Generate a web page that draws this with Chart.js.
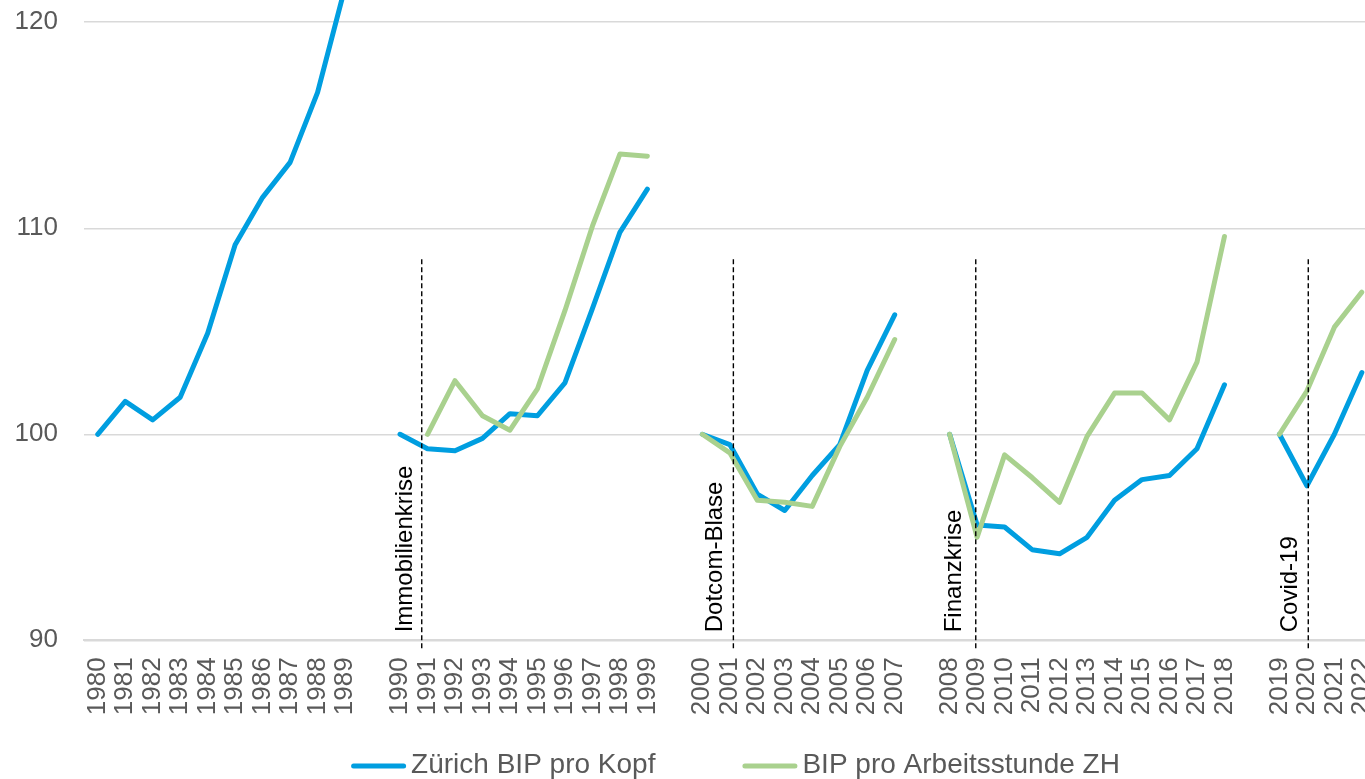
<!DOCTYPE html>
<html lang="de">
<head>
<meta charset="utf-8">
<title>BIP Zürich nach Krisen</title>
<script src="https://cdn.jsdelivr.net/npm/chart.js@4.4.1/dist/chart.umd.min.js"></script>
<style>
  html, body { margin: 0; padding: 0; background: #ffffff; overflow: hidden; }
  #frame { position: relative; width: 1365px; height: 779px; overflow: hidden; background: #ffffff; }
  #plot { position: absolute; left: 0; top: 0; }
</style>
</head>
<body>
<div id="frame">
  <canvas id="plot" width="1471" height="779"></canvas>
</div>
<script>
// Jahre (leere Einträge trennen die Perioden nach jeder Krise)
const categories = [
  '1980','1981','1982','1983','1984','1985','1986','1987','1988','1989', '',
  '1990','1991','1992','1993','1994','1995','1996','1997','1998','1999', '',
  '2000','2001','2002','2003','2004','2005','2006','2007', '',
  '2008','2009','2010','2011','2012','2013','2014','2015','2016','2017','2018', '',
  '2019','2020','2021','2022'
];

// Index, Startjahr jeder Periode = 100
const bipProKopf = [
  100, 101.6, 100.7, 101.8, 104.9, 109.2, 111.5, 113.2, 116.6, 121.7, null,
  100, 99.3, 99.2, 99.8, 101.0, 100.9, 102.5, 106.1, 109.8, 111.9, null,
  100, 99.5, 97.1, 96.3, 98.0, 99.5, 103.1, 105.8, null,
  100, 95.6, 95.5, 94.4, 94.2, 95.0, 96.8, 97.8, 98.0, 99.3, 102.4, null,
  100, 97.5, 100.0, 103.0
];

const bipProArbeitsstunde = [
  null, null, null, null, null, null, null, null, null, null, null,
  null, 100, 102.6, 100.9, 100.2, 102.2, 106.0, 110.1, 113.6, 113.5, null,
  100, 99.1, 96.8, 96.7, 96.5, 99.4, 101.8, 104.6, null,
  100, 95.0, 99.0, 97.9, 96.7, 99.9, 102.0, 102.0, 100.7, 103.5, 109.6, null,
  100, 102.1, 105.2, 106.9
];

const seriesNames = ['Zürich BIP pro Kopf', 'BIP pro Arbeitsstunde ZH'];

const yTicks = [90, 100, 110, 120];

// Krisenmarkierungen
const crisisYears = ['1991', '2001', '2009', '2020'];
const crisisLabels = ['Immobilienkrise', 'Dotcom-Blase', 'Finanzkrise', 'Covid-19'];

const FONT = "'Liberation Sans', Arial, Helvetica, sans-serif";
const GREY_TEXT = '#595959';
const GRID = '#d9d9d9';
const BLUE = '#009ee0';
const GREEN = '#a9d18e';

// Gestrichelte Linien mit senkrechter Beschriftung je Krise
const crisisMarker = {
  id: 'crisisMarker',
  afterDatasetsDraw(chart, args, opts) {
    const { ctx, chartArea } = chart;
    const x = chart.scales.x;
    const y = chart.scales.y;
    const slot = x.getPixelForValue(1) - x.getPixelForValue(0);
    const top = y.getPixelForValue(opts.topValue);
    ctx.save();
    crisisYears.forEach((year, i) => {
      const px = x.getPixelForValue(categories.indexOf(year)) + opts.shift[i] * slot;
      ctx.beginPath();
      ctx.setLineDash([5, 3]);
      ctx.lineWidth = 1.4;
      ctx.strokeStyle = '#000000';
      ctx.moveTo(px, top);
      ctx.lineTo(px, chartArea.bottom + 8);
      ctx.stroke();

      ctx.save();
      ctx.setLineDash([]);
      ctx.translate(px - opts.textGap[i], chartArea.bottom - 8);
      ctx.rotate(-Math.PI / 2);
      ctx.font = '24px ' + FONT;
      ctx.fillStyle = '#000000';
      ctx.textAlign = 'left';
      ctx.textBaseline = 'alphabetic';
      ctx.fillText(crisisLabels[i], 0, 0);
      ctx.restore();
    });
    ctx.restore();
  }
};

// Legende: Linienmuster + Text, zentriert unter der Grafik
const lineLegend = {
  id: 'lineLegend',
  afterDraw(chart, args, opts) {
    const { ctx } = chart;
    ctx.save();
    ctx.font = opts.fontSize + 'px ' + FONT;
    const items = chart.data.datasets.map(ds => ({
      text: ds.label, color: ds.borderColor, lineWidth: ds.borderWidth
    }));
    const widths = items.map(it => opts.lineLength + opts.textGap + ctx.measureText(it.text).width);
    const total = widths.reduce((a, b) => a + b, 0) + opts.itemGap * (items.length - 1);
    let x = chart.width / 2 - total / 2;
    const y = chart.height - opts.bottomOffset;
    items.forEach((it, i) => {
      const cap = it.lineWidth / 2;
      ctx.beginPath();
      ctx.strokeStyle = it.color;
      ctx.lineWidth = it.lineWidth;
      ctx.lineCap = 'round';
      ctx.moveTo(x + cap, y + 1);
      ctx.lineTo(x + opts.lineLength - cap, y + 1);
      ctx.stroke();
      ctx.fillStyle = opts.color;
      ctx.textAlign = 'left';
      ctx.textBaseline = 'middle';
      ctx.fillText(it.text, x + opts.lineLength + opts.textGap, y);
      x += widths[i] + opts.itemGap;
    });
    ctx.restore();
  }
};

new Chart(document.getElementById('plot'), {
  type: 'line',
  data: {
    labels: categories,
    datasets: [
      {
        label: seriesNames[0],
        data: bipProKopf,
        borderColor: BLUE,
        backgroundColor: BLUE,
        borderWidth: 5,
        borderCapStyle: 'round',
        borderJoinStyle: 'round',
        pointRadius: 0,
        pointHoverRadius: 0,
        tension: 0,
        spanGaps: false,
        order: 1
      },
      {
        label: seriesNames[1],
        data: bipProArbeitsstunde,
        borderColor: GREEN,
        backgroundColor: GREEN,
        borderWidth: 5,
        borderCapStyle: 'round',
        borderJoinStyle: 'round',
        pointRadius: 0,
        pointHoverRadius: 0,
        tension: 0,
        spanGaps: false,
        order: 0
      }
    ]
  },
  options: {
    responsive: false,
    devicePixelRatio: 1,
    animation: false,
    events: [],
    layout: { padding: { left: 0, right: 95.4, top: 0, bottom: 58.7 } },
    scales: {
      x: {
        type: 'category',
        offset: true,
        grid: { display: false, drawTicks: false },
        border: { display: true, color: GRID, width: 2 },
        ticks: {
          autoSkip: false,
          minRotation: 90,
          maxRotation: 90,
          padding: 17,
          color: GREY_TEXT,
          font: { family: FONT, size: 26 }
        },
        afterFit(scale) { scale.height = 80; scale.paddingLeft = 0; scale.paddingRight = 0; }
      },
      y: {
        type: 'linear',
        min: 90,
        max: 121.08,
        grid: { color: GRID, lineWidth: 1.5, drawTicks: false },
        border: { display: false },
        ticks: {
          padding: 26,
          color: GREY_TEXT,
          font: { family: FONT, size: 26 }
        },
        afterBuildTicks(scale) { scale.ticks = yTicks.map(v => ({ value: v })); },
        afterFit(scale) { scale.width = 84; scale.paddingTop = 0; scale.paddingBottom = 0; }
      }
    },
    plugins: {
      legend: { display: false },
      tooltip: { enabled: false },
      crisisMarker: {
        topValue: 108.5,
        shift: [-0.21, 0.13, -0.05, 0.05],
        textGap: [10, 11, 15, 11]
      },
      lineLegend: {
        fontSize: 28,
        color: GREY_TEXT,
        lineLength: 55,
        textGap: 5,
        itemGap: 87,
        bottomOffset: 14
      }
    }
  },
  plugins: [crisisMarker, lineLegend]
});
</script>
</body>
</html>
